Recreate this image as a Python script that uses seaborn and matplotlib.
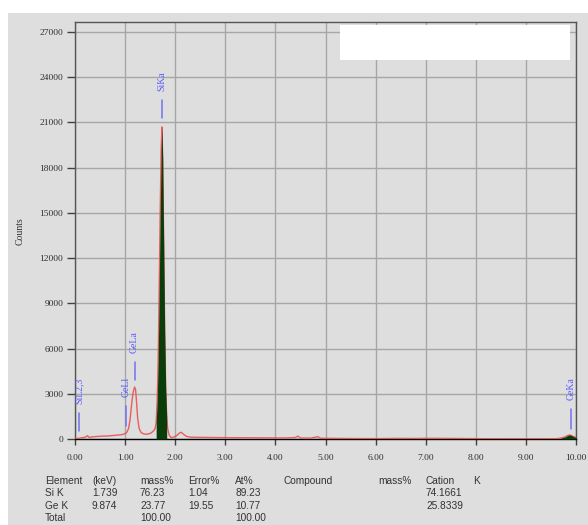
import numpy as np
import pandas as pd
import matplotlib
matplotlib.use("Agg")
import matplotlib.pyplot as plt
from matplotlib.patches import Rectangle
import seaborn as sns

# EDS spectrum: energy (keV) and counts
energy_kev = [0.00, 0.05, 0.10, 0.15, 0.20, 0.25, 0.28, 0.35, 0.45, 0.55, 0.65, 0.75,
              0.85, 0.92, 0.98, 1.03, 1.07, 1.10, 1.13, 1.16, 1.19, 1.21, 1.23, 1.25,
              1.28, 1.32, 1.38, 1.45, 1.52, 1.57, 1.60, 1.62, 1.64, 1.66, 1.68, 1.70,
              1.72, 1.735, 1.75, 1.77, 1.79, 1.81, 1.83, 1.85, 1.88, 1.92, 1.96, 2.02,
              2.08, 2.12, 2.16, 2.22, 2.30, 2.45, 2.70, 3.00, 3.30, 3.60, 3.90, 4.20,
              4.40, 4.45, 4.50, 4.70, 4.85, 4.90, 5.20, 5.60, 6.00, 6.40, 6.80, 7.00,
              7.40, 7.80, 8.20, 8.60, 9.00, 9.40, 9.60, 9.70, 9.78, 9.84, 9.87, 9.91,
              9.95, 10.00]
counts = [0, 40, 60, 90, 110, 220, 110, 140, 170, 190, 200, 230,
          260, 280, 330, 420, 700, 1300, 2300, 3100, 3450, 3250, 2400, 1400,
          700, 420, 330, 320, 400, 550, 700, 1100, 2500, 5200, 9800, 15000,
          19200, 20700, 18600, 13000, 7200, 3400, 1500, 700, 250, 90, 120, 200,
          380, 450, 330, 180, 120, 110, 100, 90, 85, 80, 75, 70,
          100, 190, 70, 60, 150, 50, 40, 30, 25, 40, 35, 45,
          40, 30, 20, 15, 15, 15, 20, 60, 140, 240, 270, 230,
          160, 100]

# Regions of interest (keV) shaded under the spectrum
roi_start = [1.62, 9.65]
roi_end = [1.84, 10.00]

# Identified lines
line_names = ["SiL2,3", "GeLl", "GeLa", "SiKa", "GeKa"]
line_energy = [0.08, 1.02, 1.19, 1.74, 9.90]

# Quantification table
table_header = ["Element", "(keV)", "mass%", "Error%", "At%", "Compound", "mass%", "Cation", "K"]
table_rows = [
    ["Si K", "1.739", "76.23", "1.04", "89.23", "", "", "74.1661", ""],
    ["Ge K", "9.874", "23.77", "19.55", "10.77", "", "", "25.8339", ""],
    ["Total", "", "100.00", "", "100.00", "", "", "", ""],
]

x_ticks = [0, 1, 2, 3, 4, 5, 6, 7, 8, 9, 10]
y_ticks = [0, 3000, 6000, 9000, 12000, 15000, 18000, 21000, 24000, 27000]

df = pd.DataFrame({"energy": energy_kev, "counts": counts})

sns.set_style("white")
W, H = 588, 525
bg = "#dedede"
fig = plt.figure(figsize=(W / 100, H / 100), dpi=100, facecolor=bg)

# White margins along the top and left edges
fig.patches.append(Rectangle((0, 1 - 13 / H), 1, 13 / H, transform=fig.transFigure,
                             facecolor="white", edgecolor="none", zorder=-5))
fig.patches.append(Rectangle((0, 0), 8 / W, 1, transform=fig.transFigure,
                             facecolor="white", edgecolor="none", zorder=-5))

ax = fig.add_axes([75 / W, (H - 439) / H, 501 / W, 417 / H])
ax.set_facecolor(bg)

sns.lineplot(data=df, x="energy", y="counts", ax=ax, color="#e8504f", lw=1.0,
             alpha=0.9, zorder=3)

e = np.array(energy_kev)
c = np.array(counts)
for s, t in zip(roi_start, roi_end):
    m = (e >= s) & (e <= t)
    ax.fill_between(e[m], 0, c[m], color="#0b3d0b", lw=0, zorder=4)

ax.set_xlim(0, 10)
ax.set_ylim(0, 27660)
ax.set_xticks(x_ticks)
ax.set_yticks(y_ticks)
ax.set_xticklabels([f"{v:.2f}" for v in x_ticks])
ax.set_yticklabels([str(v) for v in y_ticks])
ax.grid(True, color="#a6a6a6", lw=1.0, zorder=1)
ax.set_axisbelow(True)

for lab in ax.get_xticklabels() + ax.get_yticklabels():
    lab.set_fontfamily("Liberation Serif")
    lab.set_fontsize(6.8)
    lab.set_color("#303030")
ax.tick_params(axis="y", direction="out", length=6, width=1, color="#404040", pad=2.5, left=True)
ax.tick_params(axis="x", direction="out", length=4.5, width=1, color="#404040", pad=6, bottom=True)

for side in ["left", "top", "right"]:
    ax.spines[side].set_color("#555555")
    ax.spines[side].set_linewidth(1.0)
ax.spines["bottom"].set_color("#000000")
ax.spines["bottom"].set_linewidth(1.0)

ax.set_xlabel("")
ax.set_ylabel("")
fig.text(20 / W, 1 - 231 / H, "Counts", rotation=90, ha="center", va="center",
         family="Liberation Serif", size=7, color="#303030")

# Line markers: tick segment plus rotated label above it
marker_span = {"SiL2,3": (530, 1725), "GeLl": (860, 2190), "GeLa": (3910, 5110),
               "SiKa": (21300, 22490), "GeKa": (660, 1990)}
for name, en in zip(line_names, line_energy):
    y0, y1 = marker_span[name]
    ax.plot([en, en], [y0, y1], color="#7272f0", lw=1.1, zorder=5)
    ax.annotate(name, (en, y1), xytext=(0, 6.5), textcoords="offset points",
                rotation=90, ha="center", va="bottom", color="#5a5aff",
                family="Liberation Serif", size=7, zorder=6)

# Blank panel at the top right
fig.patches.append(Rectangle((340 / W, 1 - 60 / H), 230 / W, 35 / H, transform=fig.transFigure,
                             facecolor="white", edgecolor="none", zorder=10))

# Quantification table under the plot
col_x = [45, 92, 140, 188, 235, 283, 378, 426, 473]
row_y = [481, 493, 506, 518]
tfont = dict(family="Liberation Sans", size=7.3, color="#333333")
for x, txt in zip(col_x, table_header):
    fig.text(x / W, 1 - row_y[0] / H, txt, ha="left", va="center", **tfont)
for r, row in enumerate(table_rows):
    for x, txt in zip(col_x, row):
        if txt:
            fig.text(x / W, 1 - row_y[r + 1] / H, txt, ha="left", va="center", **tfont)

fig.savefig("out.png", dpi=100, facecolor=fig.get_facecolor())
